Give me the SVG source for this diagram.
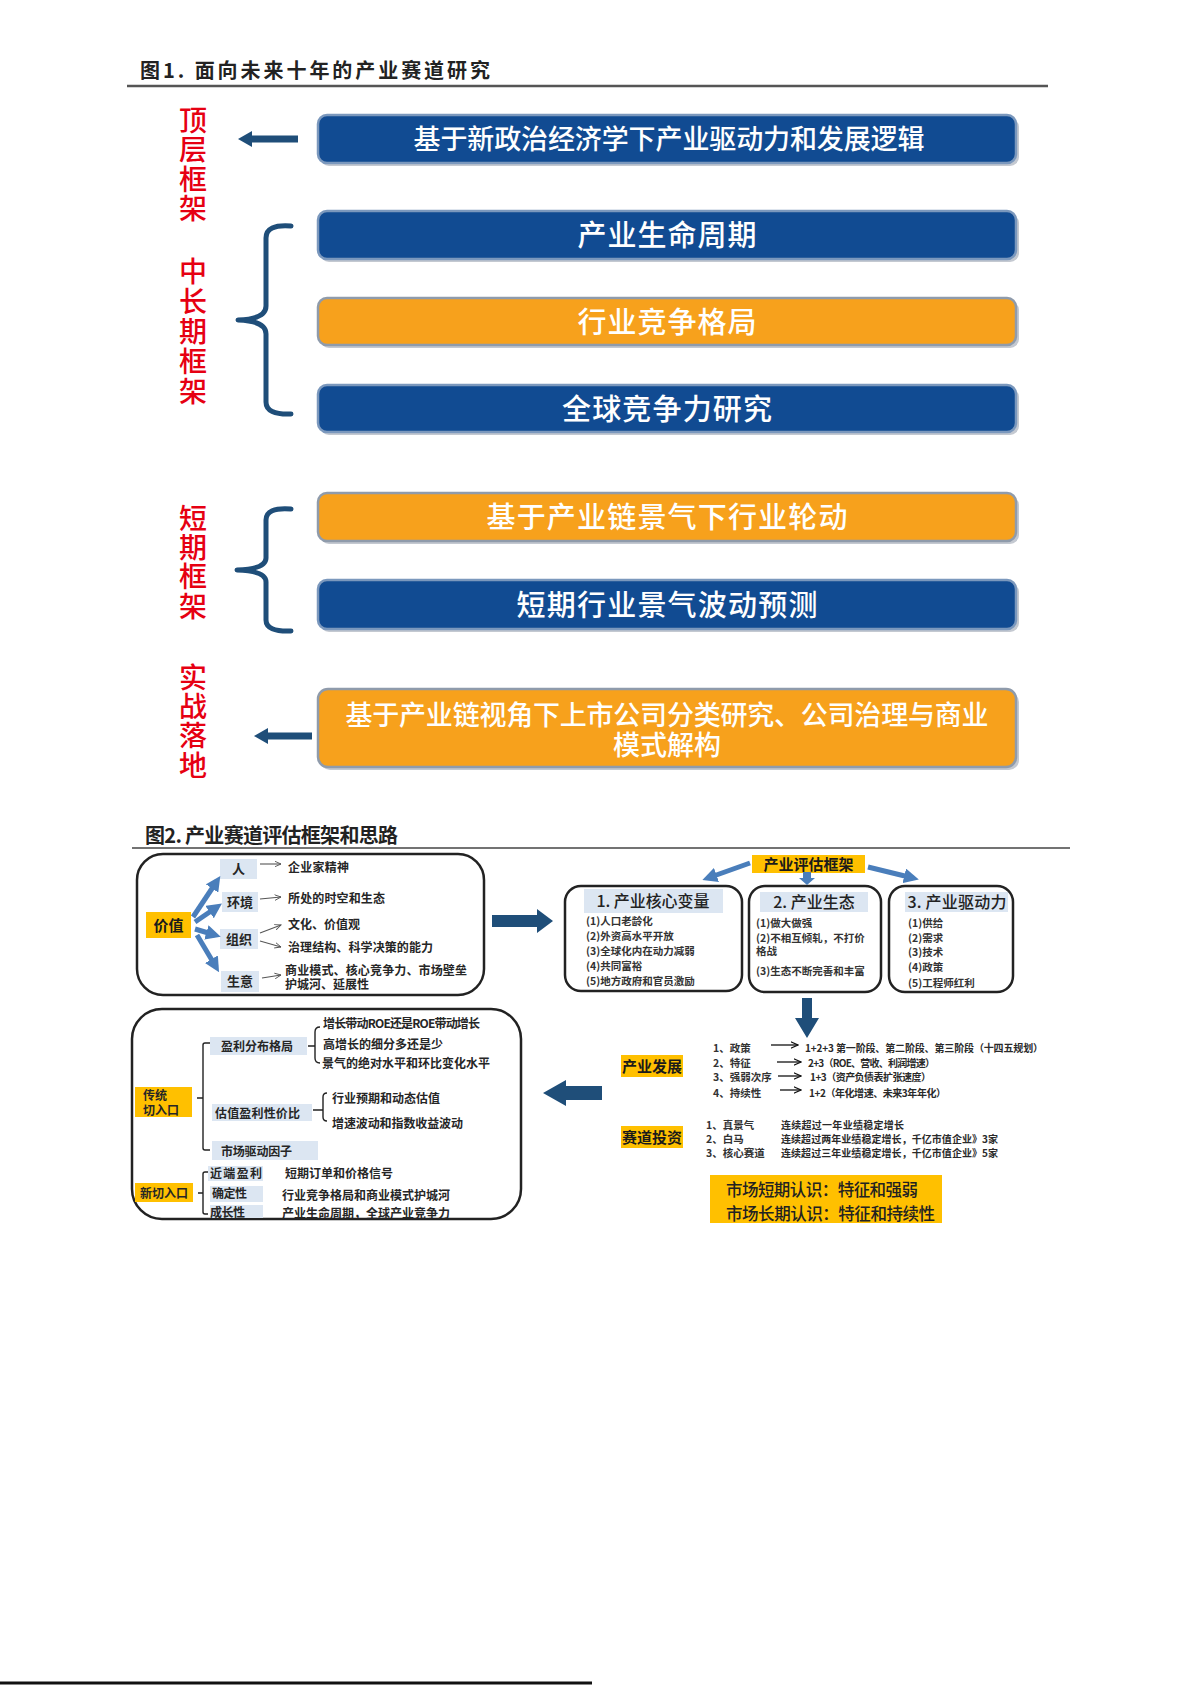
<svg xmlns="http://www.w3.org/2000/svg" width="1191" height="1685" viewBox="0 0 1191 1685">
<defs>
<style>
text{font-family:"Noto Sans CJK SC","Noto Sans",sans-serif}
.ttl{font-size:20px;font-weight:700;fill:#222}
.bt{fill:#fff;font-weight:500;text-anchor:middle}
.red{fill:#e60012;font-size:28px;font-weight:500;writing-mode:vertical-rl}
.blue{fill:#114b92;stroke:#7b98bd;stroke-width:2.5}
.org{fill:#f7a11c;stroke:#8f9bab;stroke-width:2.5}
.sh{fill:#c4c9d1}
.rb{fill:#fff;stroke:#222;stroke-width:2.5}
.lb{fill:#dce6f2}
.yl{fill:#ffc000}
.s12{font-size:12px;font-weight:700;fill:#262626}
.s13{font-size:13px;font-weight:700;fill:#262626}
.s15{font-size:15px;font-weight:700;fill:#1a1a1a}
.hd{font-size:16px;font-weight:500;fill:#222;text-anchor:middle}
.it{font-size:10.5px;font-weight:700;fill:#333}
.s10{font-size:10px;font-weight:700;fill:#2a2a2a}
.mid{text-anchor:middle}
.dk{fill:#1f4e79}
.brace{fill:none;stroke:#1f4e79;stroke-width:5;stroke-linecap:round;stroke-linejoin:round}
.fan{fill:none;stroke:#4a7ebb;stroke-width:5;marker-end:url(#bh)}
.thin{fill:none;stroke:#555;stroke-width:1.1;marker-end:url(#th)}
.thk{fill:none;stroke:#111;stroke-width:1.3;marker-end:url(#th2)}
.brk{fill:none;stroke:#222;stroke-width:1.4;stroke-linejoin:round}
</style>
<marker id="bh" viewBox="0 0 10 10" refX="6" refY="5" markerWidth="3" markerHeight="3" orient="auto"><path d="M0,0 L10,5 L0,10 Z" fill="#4a7ebb"/></marker>
<marker id="th" viewBox="0 0 10 10" refX="9" refY="5" markerWidth="7" markerHeight="7" markerUnits="userSpaceOnUse" orient="auto"><path d="M0,1 L9,5 L0,9" fill="none" stroke="#555" stroke-width="1.3"/></marker>
<marker id="th2" viewBox="0 0 10 10" refX="9" refY="5" markerWidth="8" markerHeight="8" markerUnits="userSpaceOnUse" orient="auto"><path d="M0,1 L9,5 L0,9" fill="none" stroke="#111" stroke-width="1.4"/></marker>
</defs>
<rect width="1191" height="1685" fill="#fff"/>

<!-- Figure 1 title -->
<g id="fig1-title">
<text class="ttl" x="140" y="78" font-size="21" textLength="350" lengthAdjust="spacing">图1. 面向未来十年的产业赛道研究</text>
<line x1="127" y1="86" x2="1048" y2="86" stroke="#555" stroke-width="2.5"/>
</g>

<!-- Figure 1 labels (vertical text) -->
<g id="label-top"><text class="red" x="193" y="106" letter-spacing="1.5">顶层框架</text></g>
<g id="label-mid"><text class="red" x="193" y="257" letter-spacing="2">中长期框架</text></g>
<g id="label-short"><text class="red" x="193" y="504" letter-spacing="1.3">短期框架</text></g>
<g id="label-practice"><text class="red" x="193" y="663" letter-spacing="1.3">实战落地</text></g>

<!-- Figure 1 boxes -->
<g id="box1">
<rect class="sh" x="320" y="118" width="699" height="48" rx="9"/>
<rect class="blue" x="318" y="115" width="698" height="48" rx="9"/>
<text class="bt" x="669" y="149" font-size="27" textLength="511" lengthAdjust="spacing">基于新政治经济学下产业驱动力和发展逻辑</text>
</g>
<g id="box2">
<rect class="sh" x="320" y="214" width="699" height="48" rx="9"/>
<rect class="blue" x="318" y="211" width="698" height="48" rx="9"/>
<text class="bt" x="667" y="245.5" font-size="29" textLength="179" lengthAdjust="spacing">产业生命周期</text>
</g>
<g id="box3">
<rect class="sh" x="320" y="301" width="699" height="47" rx="9"/>
<rect class="org" x="318" y="298" width="698" height="47" rx="9"/>
<text class="bt" x="667" y="332.5" font-size="29" textLength="179" lengthAdjust="spacing">行业竞争格局</text>
</g>
<g id="box4">
<rect class="sh" x="320" y="388" width="699" height="47" rx="9"/>
<rect class="blue" x="318" y="385" width="698" height="47" rx="9"/>
<text class="bt" x="667" y="419.5" font-size="29" textLength="210" lengthAdjust="spacing">全球竞争力研究</text>
</g>
<g id="box5">
<rect class="sh" x="320" y="496" width="699" height="48" rx="9"/>
<rect class="org" x="318" y="493" width="698" height="48" rx="9"/>
<text class="bt" x="667" y="527.5" font-size="29" textLength="361" lengthAdjust="spacing">基于产业链景气下行业轮动</text>
</g>
<g id="box6">
<rect class="sh" x="320" y="583" width="699" height="49" rx="9"/>
<rect class="blue" x="318" y="580" width="698" height="49" rx="9"/>
<text class="bt" x="667" y="616" font-size="29" textLength="301" lengthAdjust="spacing">短期行业景气波动预测</text>
</g>
<g id="box7">
<rect class="sh" x="320" y="692" width="699" height="78" rx="10"/>
<rect class="org" x="318" y="689" width="698" height="78" rx="10"/>
<text class="bt" font-size="27"><tspan x="667" y="725" textLength="643" lengthAdjust="spacing">基于产业链视角下上市公司分类研究、公司治理与商业</tspan><tspan x="667" y="755">模式解构</tspan></text>
</g>

<!-- Figure 2 title -->
<g id="fig2-title">
<text class="ttl" x="145" y="843" font-size="19" textLength="253" lengthAdjust="spacing">图2. 产业赛道评估框架和思路</text>
<line x1="132" y1="848" x2="1070" y2="848" stroke="#444" stroke-width="1.5"/>
</g>

<!-- Value panel -->
<g id="value-panel">
<rect class="rb" x="137" y="854" width="347" height="141" rx="26"/>
</g>
<g id="node-jiazhi">
<rect class="yl" x="146" y="912" width="45" height="26"/>
<text class="s15 mid" x="168.5" y="930.5">价值</text>
</g>
<g id="node-ren">
<rect class="lb" x="220" y="859" width="37" height="20"/>
<text class="s13 mid" x="238.5" y="874">人</text>
<text class="s12" x="288" y="871.5" textLength="61" lengthAdjust="spacing">企业家精神</text>
</g>
<g id="node-huanjing">
<rect class="lb" x="222" y="892" width="36" height="20"/>
<text class="s13 mid" x="240" y="907">环境</text>
<text class="s12" x="288" y="902.5" textLength="97" lengthAdjust="spacing">所处的时空和生态</text>
</g>
<g id="node-zuzhi">
<rect class="lb" x="220" y="929" width="38" height="20"/>
<text class="s13 mid" x="239" y="944">组织</text>
<text class="s12"><tspan x="288" y="928.5" textLength="72" lengthAdjust="spacing">文化、价值观</tspan><tspan x="288" y="951.5" textLength="145" lengthAdjust="spacing">治理结构、科学决策的能力</tspan></text>
</g>
<g id="node-shengyi">
<rect class="lb" x="221" y="971" width="38" height="21"/>
<text class="s13 mid" x="240" y="986">生意</text>
<text class="s12"><tspan x="285" y="974.5" textLength="182" lengthAdjust="spacing">商业模式、核心竞争力、市场壁垒</tspan><tspan x="285" y="988.5">护城河、延展性</tspan></text>
</g>

<!-- Framework -->
<g id="node-framework">
<rect class="yl" x="752" y="855" width="113" height="18"/>
<text class="s15 mid" x="808.5" y="869.5" font-size="15.5">产业评估框架</text>
</g>
<g id="node-core">
<rect class="rb" x="565" y="886" width="177" height="105" rx="16"/>
<rect class="lb" x="584" y="889" width="139" height="24"/>
<text class="hd" x="653" y="907" textLength="113" lengthAdjust="spacing">1. 产业核心变量</text>
<text class="it"><tspan x="586" y="925">(1)人口老龄化</tspan><tspan x="586" y="940">(2)外资高水平开放</tspan><tspan x="586" y="955">(3)全球化内在动力减弱</tspan><tspan x="586" y="970">(4)共同富裕</tspan><tspan x="586" y="985">(5)地方政府和官员激励</tspan></text>
</g>
<g id="node-eco">
<rect class="rb" x="749" y="886" width="132" height="106" rx="16"/>
<rect class="lb" x="760" y="892" width="108" height="20"/>
<text class="hd" x="814" y="908">2. 产业生态</text>
<text class="it"><tspan x="756" y="927">(1)做大做强</tspan><tspan x="756" y="942">(2)不相互倾轧，不打价</tspan><tspan x="756" y="955">格战</tspan><tspan x="756" y="975">(3)生态不断完善和丰富</tspan></text>
</g>
<g id="node-drive">
<rect class="rb" x="889" y="886" width="124" height="106" rx="16"/>
<rect class="lb" x="905" y="892" width="103" height="20"/>
<text class="hd" x="957" y="908" textLength="99" lengthAdjust="spacing">3. 产业驱动力</text>
<text class="it"><tspan x="908" y="927">(1)供给</tspan><tspan x="908" y="942">(2)需求</tspan><tspan x="908" y="956">(3)技术</tspan><tspan x="908" y="971">(4)政策</tspan><tspan x="908" y="987">(5)工程师红利</tspan></text>
</g>

<!-- Industry development -->
<g id="node-dev">
<rect class="yl" x="621" y="1055" width="62" height="22"/>
<text class="s15 mid" x="652" y="1071.5">产业发展</text>
<text class="it"><tspan x="713" y="1052">1、政策</tspan><tspan x="713" y="1067">2、特征</tspan><tspan x="713" y="1081">3、强弱次序</tspan><tspan x="713" y="1097">4、持续性</tspan></text>
<text class="s10"><tspan x="805" y="1052" textLength="238" lengthAdjust="spacing">1+2+3 第一阶段、第二阶段、第三阶段（十四五规划）</tspan><tspan x="808" y="1067" textLength="127" lengthAdjust="spacing">2+3（ROE、营收、利润增速）</tspan><tspan x="810" y="1081" textLength="121" lengthAdjust="spacing">1+3（资产负债表扩张速度）</tspan><tspan x="809" y="1097" textLength="137" lengthAdjust="spacing">1+2（年化增速、未来3年年化）</tspan></text>
</g>
<g id="node-invest">
<rect class="yl" x="621" y="1126" width="62" height="22"/>
<text class="s15 mid" x="652" y="1142.5">赛道投资</text>
<text class="it"><tspan x="706" y="1129">1、真景气</tspan><tspan x="706" y="1143">2、白马</tspan><tspan x="706" y="1157">3、核心赛道</tspan></text>
<text class="s10"><tspan x="781" y="1129" textLength="123" lengthAdjust="spacing">连续超过一年业绩稳定增长</tspan><tspan x="781" y="1143" textLength="217" lengthAdjust="spacing">连续超过两年业绩稳定增长，千亿市值企业》3家</tspan><tspan x="781" y="1157" textLength="217" lengthAdjust="spacing">连续超过三年业绩稳定增长，千亿市值企业》5家</tspan></text>
</g>
<g id="node-market">
<rect class="yl" x="710" y="1175" width="232" height="48"/>
<text font-size="16.5" font-weight="500" fill="#222"><tspan x="726" y="1196" textLength="192" lengthAdjust="spacing">市场短期认识：特征和强弱</tspan><tspan x="726" y="1220" textLength="209" lengthAdjust="spacing">市场长期认识：特征和持续性</tspan></text>
</g>

<!-- Entry panel -->
<g id="entry-panel">
<rect class="rb" x="132" y="1009" width="389" height="210" rx="30"/>
</g>
<g id="node-traditional">
<rect class="yl" x="135" y="1087" width="57" height="30"/>
<text class="s12"><tspan x="143" y="1099.5">传统</tspan><tspan x="143" y="1114.5">切入口</tspan></text>
</g>
<g id="node-profit">
<rect class="lb" x="210" y="1037" width="97" height="18"/>
<text class="s12" x="221" y="1050.5" textLength="72" lengthAdjust="spacing">盈利分布格局</text>
<text class="s12"><tspan x="323" y="1027.5" textLength="157" lengthAdjust="spacing">增长带动ROE还是ROE带动增长</tspan><tspan x="323" y="1048.5" textLength="120" lengthAdjust="spacing">高增长的细分多还是少</tspan><tspan x="322" y="1067.5" textLength="168" lengthAdjust="spacing">景气的绝对水平和环比变化水平</tspan></text>
</g>
<g id="node-valuation">
<rect class="lb" x="212" y="1104" width="100" height="17"/>
<text class="s12" x="215" y="1117.5" textLength="85" lengthAdjust="spacing">估值盈利性价比</text>
<text class="s12"><tspan x="332" y="1102.5" textLength="108" lengthAdjust="spacing">行业预期和动态估值</tspan><tspan x="332" y="1127.5" textLength="131" lengthAdjust="spacing">增速波动和指数收益波动</tspan></text>
</g>
<g id="node-driver">
<rect class="lb" x="212" y="1141" width="106" height="19"/>
<text class="s12" x="221" y="1155.5" textLength="71" lengthAdjust="spacing">市场驱动因子</text>
</g>
<g id="node-new">
<rect class="yl" x="135" y="1183" width="58" height="19"/>
<text class="s12" x="140" y="1197.5" textLength="48" lengthAdjust="spacing">新切入口</text>
</g>
<g id="node-new-items">
<rect class="lb" x="208" y="1166" width="55" height="15"/>
<rect class="lb" x="210" y="1186" width="53" height="16"/>
<rect class="lb" x="210" y="1205" width="53" height="13"/>
<text class="s12"><tspan x="210" y="1177.5" textLength="52" lengthAdjust="spacing">近端盈利</tspan><tspan x="212" y="1197.5" textLength="35" lengthAdjust="spacing">确定性</tspan><tspan x="210" y="1216.5" textLength="35" lengthAdjust="spacing">成长性</tspan></text>
<text class="s12"><tspan x="285" y="1177.5" textLength="108" lengthAdjust="spacing">短期订单和价格信号</tspan><tspan x="282" y="1199.5" textLength="168" lengthAdjust="spacing">行业竞争格局和商业模式护城河</tspan><tspan x="282" y="1217.5" textLength="168" lengthAdjust="spacing">产业生命周期，全球产业竞争力</tspan></text>
</g>

<!-- Connectors -->
<g id="connectors">
<path class="dk" d="M298,135.5 L252,135.5 L252,131 L238,139 L252,147 L252,142.5 L298,142.5 Z"/>
<path class="dk" d="M312,732.5 L268,732.5 L268,728 L254,736 L268,744 L268,739.5 L312,739.5 Z"/>
<path class="brace" d="M291,226 Q266,224 266,238 L266,306 Q266,319 238,320 Q266,321 266,334 L266,402 Q266,415 291,414"/>
<path class="brace" d="M291,509 Q266,507 266,520 L266,558 Q266,569 237,570 Q266,571 266,582 L266,620 Q266,632 291,631"/>
<line class="fan" x1="193" y1="917" x2="217" y2="881"/>
<line class="fan" x1="195" y1="922" x2="217" y2="907"/>
<line class="fan" x1="195" y1="929" x2="215" y2="935"/>
<line class="fan" x1="197" y1="935" x2="216" y2="967"/>
<line class="thin" x1="260" y1="864" x2="281" y2="864"/>
<line class="thin" x1="260" y1="899" x2="281" y2="897"/>
<line class="thin" x1="260" y1="933" x2="281" y2="925"/>
<line class="thin" x1="260" y1="941" x2="281" y2="947"/>
<line class="thin" x1="262" y1="978" x2="281" y2="975"/>
<path class="dk" d="M492,915 L537,915 L537,909 L553,921 L537,933 L537,927 L492,927 Z"/>
<line class="fan" x1="750" y1="863" x2="708" y2="878"/>
<path fill="#4a7ebb" d="M803,872 L811,872 L811,878 L815,878 L807,885 L799,878 L803,878 Z"/>
<line class="fan" x1="868" y1="867" x2="913" y2="878"/>
<path class="dk" d="M802,998 L812,998 L812,1018 L819,1018 L807,1038 L795,1018 L802,1018 Z"/>
<path class="dk" d="M602,1086 L566,1086 L566,1080 L543,1093 L566,1106 L566,1100 L602,1100 Z"/>
<line class="thk" x1="771" y1="1045" x2="798" y2="1045"/>
<line class="thk" x1="777" y1="1062" x2="801" y2="1062"/>
<line class="thk" x1="778" y1="1076" x2="801" y2="1076"/>
<line class="thk" x1="780" y1="1090" x2="801" y2="1090"/>
<path class="brk" d="M210,1043 L205,1043 Q203,1043 203,1045 L203,1148 Q203,1150 205,1150 L210,1150 M197,1098 L203,1098"/>
<path class="brk" d="M308,1046 L315,1046 M320,1027 Q315,1027 315,1032 L315,1058 Q315,1063 320,1063"/>
<path class="brk" d="M313,1110 L323,1110 M327,1093 Q323,1093 323,1097 L323,1117 Q323,1121 327,1121"/>
<path class="brk" d="M208,1172 L205,1172 Q203,1172 203,1174 L203,1212 Q203,1214 205,1214 L208,1214 M198,1193 L203,1193"/>
</g>

<g id="page-footer">
<line x1="0" y1="1683" x2="592" y2="1683" stroke="#111" stroke-width="3"/>
</g>
</svg>
